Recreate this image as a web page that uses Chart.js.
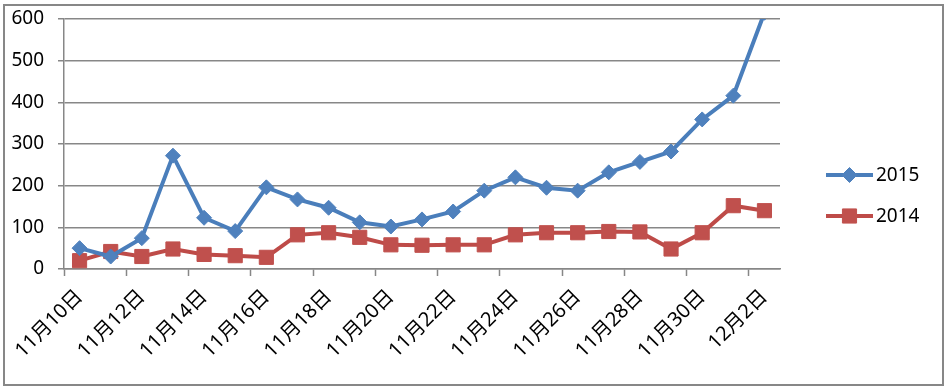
<!DOCTYPE html>
<html>
<head>
<meta charset="utf-8">
<script src="https://cdn.jsdelivr.net/npm/chart.js@4/dist/chart.umd.min.js"></script>
<style>
  body { margin: 0; background: #fff; }
  #wrap {
    position: absolute; left: 3px; top: 4px;
    width: 941px; height: 382px;
    border: 2px solid #878787; box-sizing: border-box;
  }
  canvas { display: block; }
</style>
</head>
<body>
<div id="wrap"><canvas id="myChart" width="937" height="378"></canvas></div>
<script>
// данные
const days = ['11月10日','11月11日','11月12日','11月13日','11月14日','11月15日','11月16日','11月17日',
  '11月18日','11月19日','11月20日','11月21日','11月22日','11月23日','11月24日','11月25日',
  '11月26日','11月27日','11月28日','11月29日','11月30日','12月1日','12月2日'];
const values2015 = [50, 30, 74, 272, 123, 91, 196, 167, 147, 112, 102, 119, 138, 188, 220, 195, 188, 232, 257, 282, 359, 416, 615];
const values2014 = [20, 42, 30, 48, 35, 32, 28, 82, 87, 76, 58, 57, 58, 58, 82, 87, 87, 90, 89, 48, 87, 152, 140];
const yTicks = [0, 100, 200, 300, 400, 500, 600];

const FONT = "'Noto Sans', 'Noto Sans CJK SC', sans-serif";
const GRID = '#878787';

// легенда справа: линия + маркер + подпись
const sideLegend = {
  id: 'sideLegend',
  afterDraw(chart) {
    const ctx = chart.ctx;
    chart.data.datasets.forEach((ds, i) => {
      const y = 169 + i * 41;
      ctx.save();
      ctx.strokeStyle = ds.borderColor;
      ctx.lineWidth = ds.borderWidth;
      ctx.beginPath();
      ctx.moveTo(821, y);
      ctx.lineTo(868, y);
      ctx.stroke();
      ctx.fillStyle = ds.pointBackgroundColor;
      ctx.strokeStyle = ds.pointBorderColor;
      ctx.lineWidth = 1;
      Chart.helpers.drawPoint(ctx, { pointStyle: ds.pointStyle, radius: ds.pointRadius, rotation: 0, borderWidth: 1 }, 844.5, y);
      ctx.fillStyle = '#000';
      ctx.font = '19px ' + FONT;
      ctx.textBaseline = 'middle';
      ctx.fillText(ds.label, 871, y + 1);
      ctx.restore();
    });
  }
};

let ctx = document.querySelector('#myChart').getContext('2d');
let MyChart = new Chart(ctx, {
  type: 'line',
  data: {
    labels: days,
    datasets: [{
      label: '2015',
      data: values2015,
      borderColor: '#4A7EBB',
      borderWidth: 4,
      pointStyle: 'rectRot',
      pointRadius: 7.5,
      pointBackgroundColor: '#4F81BD',
      pointBorderColor: '#4F81BD',
      pointBorderWidth: 1,
      tension: 0,
      clip: 0
    }, {
      label: '2014',
      data: values2014,
      borderColor: '#BE4B48',
      borderWidth: 4,
      pointStyle: 'rect',
      pointRadius: 10,
      pointBackgroundColor: '#C0504D',
      pointBorderColor: '#C0504D',
      pointBorderWidth: 1,
      tension: 0,
      clip: 0
    }]
  },
  options: {
    responsive: false,
    animation: false,
    devicePixelRatio: 1,
    layout: { padding: { top: 13, right: 162, left: 0, bottom: 0 } },
    plugins: {
      legend: { display: false },
      tooltip: { enabled: false }
    },
    scales: {
      x: {
        offset: true,
        grid: {
          offset: true,
          drawOnChartArea: false,
          tickLength: 7,
          tickWidth: 1.5,
          tickColor: c => (c.index % 2 === 0 ? GRID : 'rgba(0,0,0,0)')
        },
        border: { color: GRID, width: 1.5 },
        ticks: {
          autoSkip: false,
          minRotation: 45,
          maxRotation: 45,
          padding: 9,
          color: '#000',
          font: { family: FONT, size: 20 },
          callback: function (v, i) { return i % 2 === 0 ? days[i] : ''; }
        },
        afterFit: s => { s.height = 115; }
      },
      y: {
        min: 0,
        max: 600,
        afterBuildTicks: s => { s.ticks = yTicks.map(v => ({ value: v })); },
        grid: { color: GRID, lineWidth: 1.5, tickLength: 6 },
        border: { color: GRID, width: 1.5 },
        ticks: {
          padding: 14,
          color: '#000',
          font: { family: FONT, size: 19 }
        },
        afterFit: s => { s.width = 59; s.paddingTop = 0; s.paddingBottom = 0; }
      }
    }
  },
  plugins: [sideLegend]
});
</script>
</body>
</html>
